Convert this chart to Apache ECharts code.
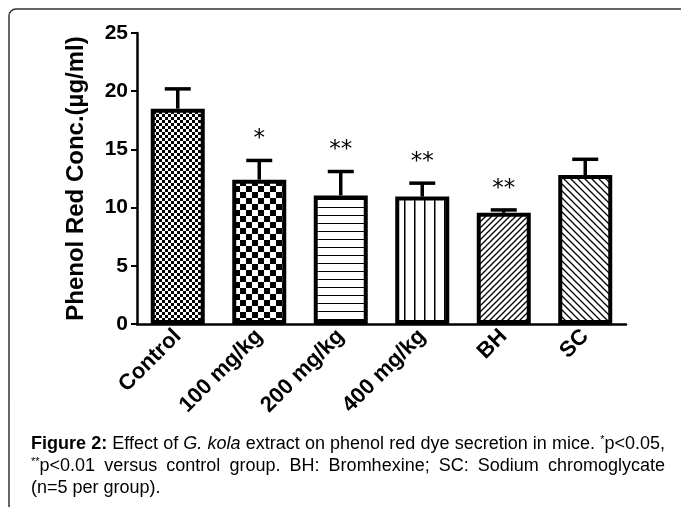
<!DOCTYPE html>
<html>
<head>
<meta charset="utf-8">
<script src="https://cdn.jsdelivr.net/npm/echarts@6/dist/echarts.min.js"></script>
<style>
  html, body { margin: 0; padding: 0; background: #fff; }
  #chart { width: 681px; height: 507px; }
</style>
</head>
<body>
<div id="chart"></div>
<script>
  var categories = ['Control', '100 mg/kg', '200 mg/kg', '400 mg/kg', 'BH', 'SC'];
  var means = [18.5, 12.4, 11.05, 10.95, 9.55, 12.8];
  var errTops = [20.2, 14.05, 13.1, 12.1, 9.8, 14.15];
  var stars = ['', '*', '**', '**', '**', ''];
  var yTicks = [0, 5, 10, 15, 20, 25];

  // caption words; leading asterisks are superscripts
  var caption1 = ['Figure', '2:', 'Effect', 'of', 'G.', 'kola', 'extract', 'on', 'phenol', 'red', 'dye', 'secretion', 'in', 'mice.', '*p<0.05,'];
  var caption1Styles = ['bold', 'bold', '', '', 'italic', 'italic'];
  var caption2 = ['**p<0.01', 'versus', 'control', 'group.', 'BH:', 'Bromhexine;', 'SC:', 'Sodium', 'chromoglycate'];
  var caption3 = ['(n=5', 'per', 'group).'];

  // fill patterns, one per bar
  function tile(w, h, draw) {
    var c = document.createElement('canvas');
    c.width = w; c.height = h;
    var ctx = c.getContext('2d');
    ctx.fillStyle = '#fff';
    ctx.fillRect(0, 0, w, h);
    ctx.fillStyle = '#000';
    ctx.strokeStyle = '#000';
    draw(ctx, w, h);
    return { image: c, repeat: 'repeat' };
  }
  function checker(s) {
    return tile(2 * s, 2 * s, function (ctx) {
      ctx.fillRect(0, 0, s, s);
      ctx.fillRect(s, s, s, s);
    });
  }
  var patterns = [
    checker(3),
    checker(6),
    tile(8, 8, function (ctx) { ctx.fillRect(0, 7, 8, 1.2); }),
    tile(10, 10, function (ctx) { ctx.fillRect(4, 0, 1.5, 10); }),
    tile(6, 6, function (ctx, w, h) {
      ctx.lineWidth = 1.3;
      ctx.beginPath();
      ctx.moveTo(-1, h + 1); ctx.lineTo(w + 1, -1);
      ctx.moveTo(-1, 1); ctx.lineTo(1, -1);
      ctx.moveTo(w - 1, h + 1); ctx.lineTo(w + 1, h - 1);
      ctx.stroke();
    }),
    tile(7, 7, function (ctx, w, h) {
      ctx.lineWidth = 1.3;
      ctx.beginPath();
      ctx.moveTo(-1, -1); ctx.lineTo(w + 1, h + 1);
      ctx.moveTo(w - 1, -1); ctx.lineTo(w + 1, 1);
      ctx.moveTo(-1, h - 1); ctx.lineTo(1, h + 1);
      ctx.stroke();
    })
  ];

  // caption lines, justified like the journal text
  var capFamily = '"Liberation Sans", Arial, sans-serif';
  var supFont = '11px ' + capFamily;
  var mctx = document.createElement('canvas').getContext('2d');
  function captionLine(words, styles, x0, top, width) {
    var items = words.map(function (w, i) {
      var m = /^(\*+)(.*)$/.exec(w);
      var sup = m ? m[1] : '';
      var body = m ? m[2] : w;
      var font = ((styles && styles[i]) ? styles[i] + ' ' : '') + '18px ' + capFamily;
      mctx.font = supFont;
      var sw = sup ? mctx.measureText(sup).width : 0;
      mctx.font = font;
      var bw = mctx.measureText(body).width;
      return { sup: sup, body: body, font: font, sw: sw, w: sw + bw };
    });
    mctx.font = '18px ' + capFamily;
    var gap = mctx.measureText(' ').width;
    if (width) {
      var total = items.reduce(function (a, it) { return a + it.w; }, 0);
      gap = (width - total) / (items.length - 1);
    }
    var out = [];
    var x = x0;
    items.forEach(function (it) {
      if (it.sup) {
        out.push({ type: 'text', x: x, y: top - 1, silent: true,
          style: { text: it.sup, font: supFont, fill: '#000', verticalAlign: 'top' } });
      }
      out.push({ type: 'text', x: x + it.sw, y: top, silent: true,
        style: { text: it.body, font: it.font, fill: '#000', verticalAlign: 'top' } });
      x += it.w + gap;
    });
    return out;
  }

  var chart = echarts.init(document.getElementById('chart'));
  var axisFont = 'Arial, "Liberation Sans", sans-serif';

  var option = {
    animation: false,
    backgroundColor: '#fff',
    grid: { left: 137, top: 33, width: 489, height: 291 },
    xAxis: {
      type: 'category',
      data: categories,
      axisLine: { lineStyle: { color: '#000', width: 2.5 } },
      axisTick: { alignWithLabel: true, length: 6, lineStyle: { color: '#000', width: 2 } },
      axisLabel: {
        rotate: 45, margin: 9, color: '#000',
        fontFamily: axisFont, fontWeight: 'bold', fontSize: 22
      }
    },
    yAxis: {
      type: 'value',
      min: 0, max: 25, interval: 5,
      name: 'Phenol Red Conc.(µg/ml)',
      nameLocation: 'middle',
      nameGap: 49,
      nameTextStyle: { color: '#000', fontFamily: axisFont, fontWeight: 'bold', fontSize: 24 },
      axisLine: { show: true, lineStyle: { color: '#000', width: 2.5 } },
      axisTick: { show: true, length: 6, lineStyle: { color: '#000', width: 2 } },
      splitLine: { show: false },
      axisLabel: {
        color: '#000', margin: 9,
        fontFamily: axisFont, fontWeight: 'bold', fontSize: 21,
        formatter: function (v) { return yTicks.indexOf(v) >= 0 ? String(v) : ''; }
      }
    },
    series: [
      {
        type: 'bar',
        barWidth: 54,
        data: means.map(function (v, i) {
          return { value: v, itemStyle: { color: patterns[i], borderColor: '#000', borderWidth: 4 } };
        })
      },
      {
        type: 'custom',
        z: 5,
        data: means.map(function (v, i) { return [i, v, errTops[i]]; }),
        renderItem: function (params, api) {
          var i = api.value(0);
          var p0 = api.coord([i, api.value(1)]);
          var p1 = api.coord([i, api.value(2)]);
          var st = { stroke: '#000', lineWidth: 3.5 };
          var children = [
            { type: 'line', shape: { x1: p0[0], y1: p0[1], x2: p1[0], y2: p1[1] }, style: st },
            { type: 'line', shape: { x1: p1[0] - 13, y1: p1[1], x2: p1[0] + 13, y2: p1[1] }, style: st }
          ];
          if (stars[i]) {
            children.push({
              type: 'text',
              style: {
                text: stars[i], x: p1[0], y: p1[1] - 21,
                align: 'center', verticalAlign: 'middle',
                fill: '#000', font: '23px "DejaVu Sans", sans-serif'
              }
            });
          }
          return { type: 'group', children: children };
        }
      }
    ],
    graphic: [
      {
        type: 'rect',
        shape: { x: 9, y: 9, width: 720, height: 560, r: 7 },
        style: { fill: 'none', stroke: '#333', lineWidth: 1.5 },
        silent: true
      }
    ].concat(
      captionLine(caption1, caption1Styles, 31, 435, 634),
      captionLine(caption2, null, 31, 457, 634),
      captionLine(caption3, null, 31, 479, 0)
    )
  };

  chart.setOption(option);
  window.addEventListener('resize', function () {
    chart.resize();
  });
</script>
</body>
</html>
